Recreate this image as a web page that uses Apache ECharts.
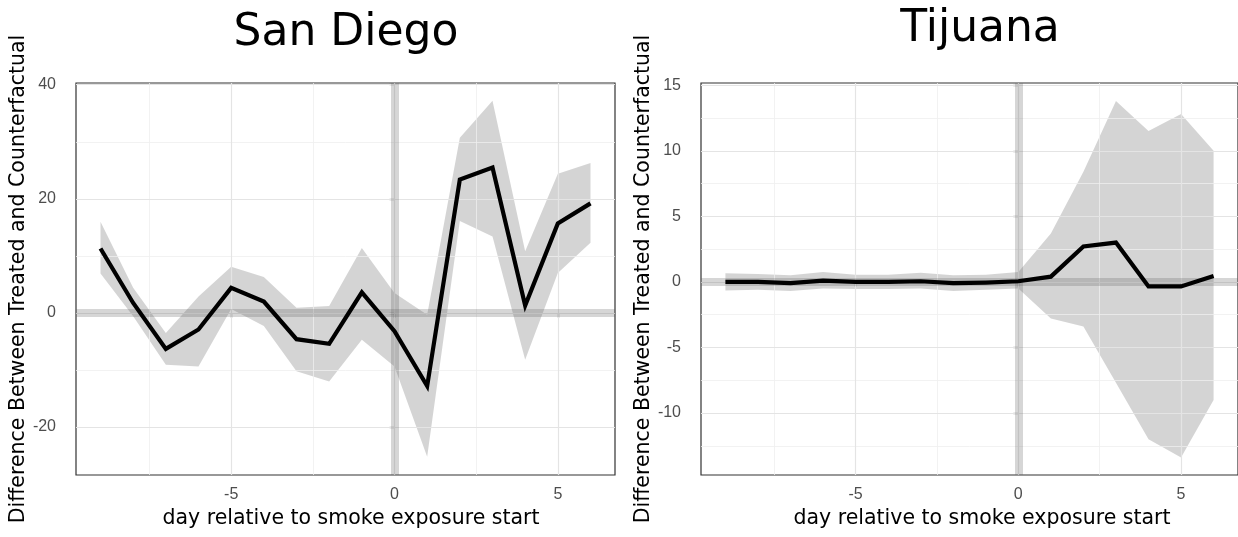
<!DOCTYPE html>
<html>
<head>
<meta charset="utf-8">
<script src="https://cdn.jsdelivr.net/npm/echarts@6/dist/echarts.min.js"></script>
<style>
  html, body { margin: 0; padding: 0; background: #fff; }
  #chart { width: 1238px; height: 537px; }
</style>
</head>
<body>
<div id="chart"></div>
<script>
// Event-study estimates: difference between treated and counterfactual, by day
const days = [-9, -8, -7, -6, -5, -4, -3, -2, -1, 0, 1, 2, 3, 4, 5, 6];

const sdEstimate = [11.3, 1.75, -6.3, -2.9, 4.4, 2.0, -4.6, -5.4, 3.6, -3.2, -12.8, 23.4, 25.5, 1.3, 15.7, 19.2];
const sdUpper    = [16.0, 4.4, -3.5, 2.9, 8.1, 6.3, 0.9, 1.2, 11.4, 3.5, -0.3, 30.7, 37.2, 10.8, 24.4, 26.3];
const sdLower    = [6.9, -0.6, -9.1, -9.4, 0.7, -2.3, -10.2, -12.0, -4.7, -9.4, -25.2, 16.1, 13.4, -8.2, 7.0, 12.3];

const tjEstimate = [0.0, 0.0, -0.1, 0.1, 0.0, 0.0, 0.05, -0.1, -0.05, 0.05, 0.4, 2.7, 3.0, -0.35, -0.35, 0.45];
const tjUpper    = [0.65, 0.6, 0.5, 0.75, 0.55, 0.55, 0.7, 0.5, 0.55, 0.75, 3.7, 8.4, 13.8, 11.5, 12.8, 10.0];
const tjLower    = [-0.65, -0.6, -0.7, -0.5, -0.55, -0.55, -0.5, -0.7, -0.6, -0.5, -2.8, -3.4, -7.7, -12.0, -13.4, -9.0];

// Axis ticks and grid lines
const xTicks = [-5, 0, 5];
const xMinor = [-7.5, -2.5, 2.5];
const sdYTicks = [-20, 0, 20, 40];
const sdYMinor = [-10, 10, 30];
const tjYTicks = [-10, -5, 0, 5, 10, 15];
const tjYMinor = [-12.5, -7.5, -2.5, 2.5, 7.5, 12.5];

const panelTitles = ['San Diego', 'Tijuana'];
const xTitle = 'day relative to smoke exposure start';
const yTitle = 'Difference Between Treated and Counterfactual';

const tickFont = { fontFamily: 'Liberation Sans, Arial, sans-serif', fontSize: 16, color: '#4d4d4d' };
const titleFont = 'DejaVu Sans, Verdana, sans-serif';

const chart = echarts.init(document.getElementById('chart'), null, { renderer: 'canvas' });

function xAxisFor(gridIndex) {
  return {
    type: 'value', gridIndex, min: -9.75, max: 6.75,
    axisLine: { show: false },
    axisTick: { show: true, length: 5, lineStyle: { color: '#333', width: 1.2 }, customValues: xTicks },
    axisLabel: Object.assign({ margin: 12, customValues: xTicks }, tickFont),
    splitLine: { show: false }
  };
}

function yAxisFor(gridIndex, min, max, ticks, gap) {
  return {
    type: 'value', gridIndex, min, max,
    axisLine: { show: false },
    axisTick: { show: true, length: 5, lineStyle: { color: '#333', width: 1.2 }, customValues: ticks },
    axisLabel: Object.assign({ margin: 20, customValues: ticks }, tickFont),
    splitLine: { show: false },
    name: yTitle, nameLocation: 'middle', nameGap: gap, nameRotate: 90,
    nameTextStyle: { fontFamily: titleFont, fontSize: 20.5, color: '#000' }
  };
}

// Light panel grid drawn as lines through the axes' own scales
function gridSeries(idx, yMajor, yMinor) {
  const major = { color: '#e4e4e4', width: 1.2, type: 'solid' };
  const minor = { color: '#efefef', width: 0.8, type: 'solid' };
  const data = []
    .concat(yMinor.map(v => ({ yAxis: v, lineStyle: minor })))
    .concat(xMinor.map(v => ({ xAxis: v, lineStyle: minor })))
    .concat(yMajor.map(v => ({ yAxis: v, lineStyle: major })))
    .concat(xTicks.map(v => ({ xAxis: v, lineStyle: major })));
  return {
    type: 'line', xAxisIndex: idx, yAxisIndex: idx, data: [], z: 1, silent: true,
    markLine: { silent: true, symbol: ['none', 'none'], label: { show: false }, animation: false, data }
  };
}

// Reference lines at zero on both axes
function refSeries(idx) {
  const style = { color: 'rgba(90,90,90,0.25)', width: 8, type: 'solid' };
  return {
    type: 'line', xAxisIndex: idx, yAxisIndex: idx, data: [], z: 4, silent: true,
    markLine: {
      silent: true, symbol: ['none', 'none'], label: { show: false }, animation: false,
      data: [{ yAxis: 0, lineStyle: style }, { xAxis: 0, lineStyle: style }]
    }
  };
}

// Confidence band as one polygon: upper bound forward, lower bound back
function ribbonSeries(idx, lower, upper) {
  return {
    type: 'custom', xAxisIndex: idx, yAxisIndex: idx, z: 3, silent: true,
    data: days.map((d, i) => [d, lower[i], upper[i]]),
    encode: { x: 0, y: [1, 2] },
    renderItem: function (params, api) {
      if (params.dataIndex !== 0) return null;
      const pts = [];
      for (let i = 0; i < days.length; i++) pts.push(api.coord([days[i], upper[i]]));
      for (let i = days.length - 1; i >= 0; i--) pts.push(api.coord([days[i], lower[i]]));
      return { type: 'polygon', shape: { points: pts }, style: { fill: 'rgba(0,0,0,0.17)' } };
    }
  };
}

function lineSeries(idx, est) {
  return {
    type: 'line', xAxisIndex: idx, yAxisIndex: idx, z: 5,
    data: days.map((d, i) => [d, est[i]]),
    showSymbol: false, symbol: 'none', silent: true,
    lineStyle: { color: '#000', width: 4.2, join: 'miter' }
  };
}

function xTitleText(cx) {
  return {
    type: 'text', x: cx, y: 519, silent: true,
    style: { text: xTitle, fontFamily: titleFont, fontSize: 20.5, fill: '#000', align: 'center', verticalAlign: 'middle' }
  };
}

chart.setOption({
  animation: false,
  backgroundColor: '#fff',
  title: [
    { text: panelTitles[0], left: 341, top: 7, textAlign: 'center',
      textStyle: { fontFamily: titleFont, fontSize: 44, fontWeight: 'normal', color: '#000' } },
    { text: panelTitles[1], left: 975, top: 3, textAlign: 'center',
      textStyle: { fontFamily: titleFont, fontSize: 44, fontWeight: 'normal', color: '#000' } }
  ],
  graphic: [xTitleText(351), xTitleText(982)],
  grid: [
    { left: 76, top: 83, width: 539, height: 392, show: true, borderColor: '#333', borderWidth: 1.2, backgroundColor: 'transparent' },
    { left: 701, top: 83, width: 538, height: 392, show: true, borderColor: '#333', borderWidth: 1.2, backgroundColor: 'transparent' }
  ],
  xAxis: [xAxisFor(0), xAxisFor(1)],
  yAxis: [
    yAxisFor(0, -28.4, 40.3, sdYTicks, 43),
    yAxisFor(1, -14.73, 15.17, tjYTicks, 47)
  ],
  series: [
    gridSeries(0, sdYTicks, sdYMinor),
    gridSeries(1, tjYTicks, tjYMinor),
    ribbonSeries(0, sdLower, sdUpper),
    ribbonSeries(1, tjLower, tjUpper),
    refSeries(0),
    refSeries(1),
    lineSeries(0, sdEstimate),
    lineSeries(1, tjEstimate)
  ]
});
</script>
</body>
</html>
